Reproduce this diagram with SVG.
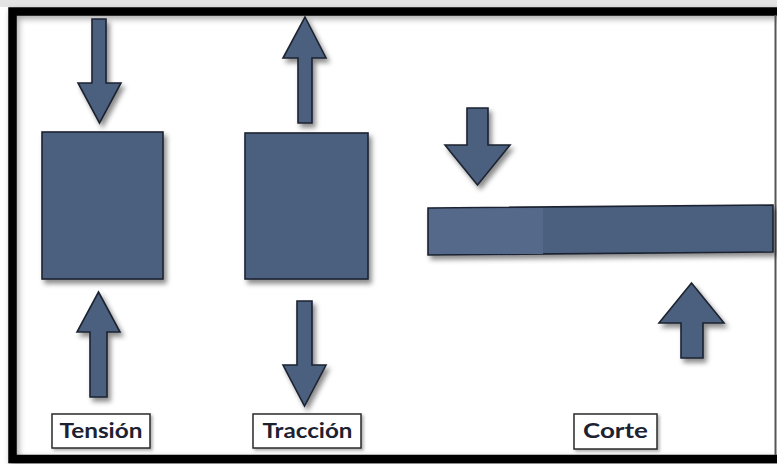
<svg xmlns="http://www.w3.org/2000/svg" width="777" height="464" viewBox="0 0 777 464">
  <defs>
    <filter id="sh" x="-20%" y="-20%" width="150%" height="150%">
      <feDropShadow dx="3" dy="4" stdDeviation="2.5" flood-color="#000" flood-opacity="0.45"/>
    </filter>
    <filter id="lsh" x="-10%" y="-20%" width="130%" height="150%">
      <feDropShadow dx="2" dy="2" stdDeviation="1.5" flood-color="#000" flood-opacity="0.3"/>
    </filter>
    <filter id="fsh" x="-5%" y="-5%" width="110%" height="110%">
      <feDropShadow dx="2" dy="3" stdDeviation="3" flood-color="#000" flood-opacity="0.35"/>
    </filter>
  </defs>
  <style>
    .sh { fill: #4b5f7f; stroke: #1c2430; stroke-width: 1.6; stroke-linejoin: miter; filter: url(#sh); }
    .lbl rect { fill: #ffffff; stroke: #2a2a2a; stroke-width: 1.5; filter: url(#lsh); }
    .lbl text { font-family: Lato, "Open Sans", "Liberation Sans", sans-serif; font-weight: bold; font-size: 21px; fill: #1c2232; text-anchor: middle; }
  </style>
  <rect width="777" height="464" fill="#ffffff"/>
  <rect x="0" y="0" width="777" height="7" fill="#e4e4e4"/>
  <g id="frame">
    <path d="M 790 11.5 H 12.5 V 459 H 790" fill="none" stroke="#000" stroke-width="8.5" filter="url(#fsh)"/>
    <line x1="775.5" y1="15" x2="775.5" y2="455" stroke="#555" stroke-width="2"/>
  </g>

  <g id="tension-block"><rect class="sh" x="42" y="132" width="121" height="147"/></g>
  <g id="traccion-block"><rect class="sh" x="245" y="133" width="123" height="146"/></g>
  <g id="corte-beam">
    <polygon class="sh" points="428,208 773,205 773,252 428,255" fill="#475a78"/>
    <polygon points="429,209 543,208 543,254 429,254" fill="#55698a"/>
  </g>

  <g id="connectors">
    <polygon class="sh" points="92,19 106,19 106,83 121,83 99.5,123 78,83 92,83"/>
    <polygon class="sh" points="305,17 326,58 312,58 312,123 298,123 298,58 283,58"/>
    <polygon class="sh" points="98.5,292 120,332 107,332 107,397 90,397 90,332 77,332"/>
    <polygon class="sh" points="297,301 312,301 312,365 326,365 304.5,406 283,365 297,365"/>
    <polygon class="sh" points="467,108 488,108 488,145 510,145 477.5,185 445,145 467,145"/>
    <polygon class="sh" points="691.5,283 724,323 703,323 703,358 681,358 681,323 659,323"/>
  </g>

  <g id="label-tension" class="lbl">
    <rect x="52" y="414" width="98" height="34"/>
    <text x="101" y="438" textLength="83" lengthAdjust="spacingAndGlyphs">Tensión</text>
  </g>
  <g id="label-traccion" class="lbl">
    <rect x="253" y="414" width="108" height="34"/>
    <text x="307.5" y="438" textLength="90" lengthAdjust="spacingAndGlyphs">Tracción</text>
  </g>
  <g id="label-corte" class="lbl">
    <rect x="574" y="414" width="83" height="35"/>
    <text x="615.5" y="438" textLength="65" lengthAdjust="spacingAndGlyphs">Corte</text>
  </g>
</svg>
